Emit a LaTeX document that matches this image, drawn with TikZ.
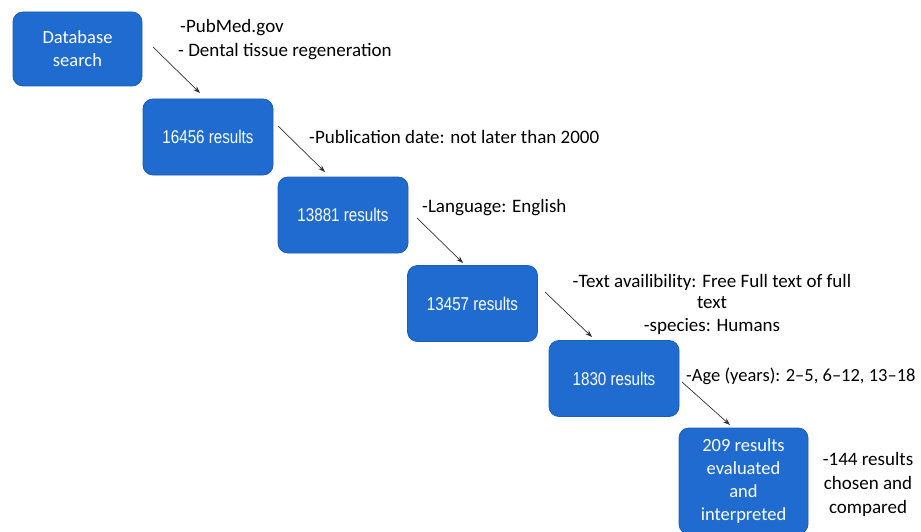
\documentclass[tikz,border=0pt]{standalone}
\usepackage{fontspec}
\setmainfont{Carlito}
\newfontfamily\arialn[FakeStretch=0.82]{Liberation Sans}
\usetikzlibrary{arrows.meta}
\definecolor{boxblue}{HTML}{1F6BCF}
\definecolor{boxedge}{HTML}{1C5DB8}
\begin{document}
\begin{tikzpicture}[x=1pt,y=-1pt,
  resbox/.style={draw=boxedge, line width=0.8pt, fill=boxblue, rounded corners=10pt,
    text=white, align=center, inner sep=0pt, minimum width=130pt, minimum height=76pt},
  numtxt/.style={font=\arialn\fontsize{18.5}{22}\selectfont},
  boxtxt/.style={font=\fontsize{18.5}{23}\selectfont},
  lbl/.style={font=\fontsize{19}{23}\selectfont, inner sep=0pt, text=black},
  flow/.style={draw=black!80, line width=0.7pt, -{Stealth[length=7pt,width=5pt]}}]
\useasboundingbox (0,0) rectangle (921,532);
\clip (0,0) rectangle (921,532);
\fill[white] (0,0) rectangle (921,532);

% boxes
\node[resbox, boxtxt, minimum width=129pt, minimum height=74pt] (db) at (77.5,49) {Database\\search};
\node[resbox, numtxt] (r1) at (208,137) {16456 results};
\node[resbox, numtxt] (r2) at (343,215) {13881 results};
\node[resbox, numtxt] (r3) at (472.5,303.5) {13457 results};
\node[resbox, numtxt] (r4) at (614,378.5) {1830 results};
\node[resbox, boxtxt, minimum width=129pt, minimum height=106pt] (r5) at (743.5,481) {209 results\\evaluated\\and\\interpreted};

% labels
\node[lbl, anchor=base west] (l1a) at (180,33) {-PubMed.gov};
\node[lbl, anchor=base west] (l1b) at (178,57) {- Dental tissue regeneration};
\node[lbl, anchor=base west] (l2) at (309,143) {-Publication date: not later than 2000};
\node[lbl, anchor=base west] (l3) at (422,212) {-Language: English};
\node[lbl, anchor=base] (l4a) at (712,287) {-Text availibility: Free Full text of full};
\node[lbl, anchor=base] (l4b) at (712,308) {text};
\node[lbl, anchor=base] (l4c) at (712,331) {-species: Humans};
\node[lbl, anchor=base west, font=\fontsize{18.5}{23}\selectfont] (l5) at (686,381) {-Age (years): 2--5, 6--12, 13--18};
\node[lbl, anchor=base] (l6a) at (868,465) {-144 results};
\node[lbl, anchor=base] (l6b) at (868,489) {chosen and};
\node[lbl, anchor=base] (l6c) at (868,513) {compared};

% arrows
\coordinate (a1s) at (153,47); \coordinate (a1e) at (200,93);
\coordinate (a2s) at (278,126); \coordinate (a2e) at (325,172);
\coordinate (a3s) at (417,218); \coordinate (a3e) at (463,263);
\coordinate (a4s) at (545,292); \coordinate (a4e) at (592,337);
\coordinate (a5s) at (682,382); \coordinate (a5e) at (730,425);
\draw[flow] (a1s) -- (a1e);
\draw[flow] (a2s) -- (a2e);
\draw[flow] (a3s) -- (a3e);
\draw[flow] (a4s) -- (a4e);
\draw[flow] (a5s) -- (a5e);
\end{tikzpicture}
\end{document}
